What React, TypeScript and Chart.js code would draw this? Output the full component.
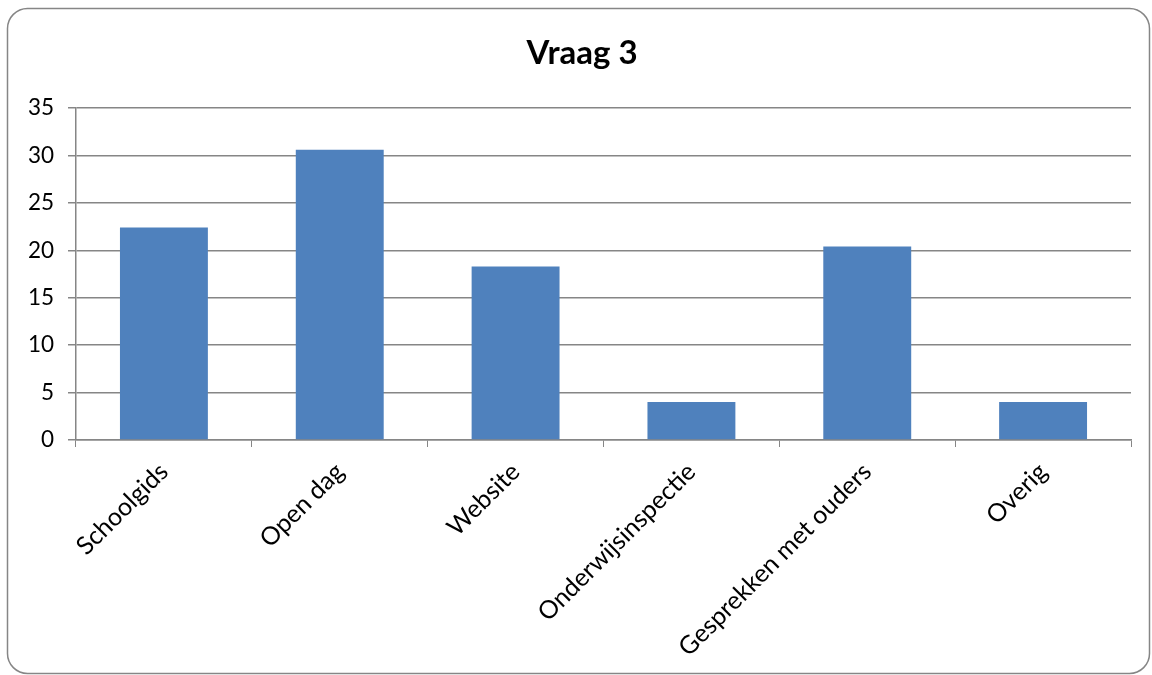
import React, { useEffect, useRef } from "react";
import { Chart, registerables } from "chart.js";

Chart.register(...registerables);

const categories = ["Schoolgids", "Open dag", "Website", "Onderwijsinspectie", "Gesprekken met ouders", "Overig"];
const values = [22.4, 30.6, 18.3, 4.0, 20.4, 4.0];
const titleText = "Vraag 3";

const FONT = "Lato, 'Open Sans', sans-serif";

const frameAndTitlePlugin = {
  id: "frameAndTitle",
  beforeDraw(chart: any) {
    const ctx = chart.ctx;
    ctx.save();
    ctx.fillStyle = "#ffffff";
    ctx.fillRect(0, 0, chart.width, chart.height);
    ctx.strokeStyle = "#868686";
    ctx.lineWidth = 1.5;
    ctx.beginPath();
    (ctx as any).roundRect(7.5, 8.5, 1142, 665, 20);
    ctx.stroke();
    ctx.fillStyle = "#000000";
    ctx.font = `bold 33px ${FONT}`;
    ctx.textAlign = "center";
    ctx.textBaseline = "middle";
    ctx.fillText(titleText, 582, 53);
    ctx.restore();
  },
};

export default function App() {
  const ref = useRef<HTMLCanvasElement | null>(null);
  useEffect(() => {
    if (!ref.current) return;
    const chart = new Chart(ref.current, {
      type: "bar",
      data: {
        labels: categories,
        datasets: [
          {
            data: values,
            backgroundColor: "#4F81BD",
            borderWidth: 0,
            barPercentage: 0.5,
            categoryPercentage: 1,
          },
        ],
      },
      options: {
        animation: false,
        responsive: false,
        layout: { padding: { left: 0, right: 21, top: 108, bottom: 0 } },
        plugins: {
          legend: { display: false },
          tooltip: { enabled: false },
          title: { display: false },
        },
        scales: {
          x: {
            grid: {
              display: true,
              drawOnChartArea: false,
              drawTicks: true,
              tickLength: 7,
              color: "#868686",
              offset: true,
            },
            border: { display: true, color: "#868686", width: 1.5 },
            ticks: {
              color: "#000000",
              font: { family: FONT, size: 25 },
              maxRotation: 45,
              minRotation: 45,
              padding: 10,
              autoSkip: false,
            },
            afterFit(scale: any) {
              scale.height = 235;
            },
          },
          y: {
            min: 0,
            max: 35,
            ticks: {
              stepSize: 5,
              color: "#000000",
              font: { family: FONT, size: 22.5 },
              padding: 14,
            },
            grid: {
              color: "#868686",
              lineWidth: 1.5,
              tickLength: 8,
            },
            border: { display: true, color: "#868686", width: 1.5 },
            afterFit(scale: any) {
              scale.width = 76;
            },
          },
        },
      },
      plugins: [frameAndTitlePlugin],
    });
    return () => chart.destroy();
  }, []);
  return (
    <div style={{ position: "fixed", left: 0, top: 0, width: 1152, height: 675 }}>
      <canvas ref={ref} width={1152} height={675} style={{ display: "block" }} />
    </div>
  );
}
